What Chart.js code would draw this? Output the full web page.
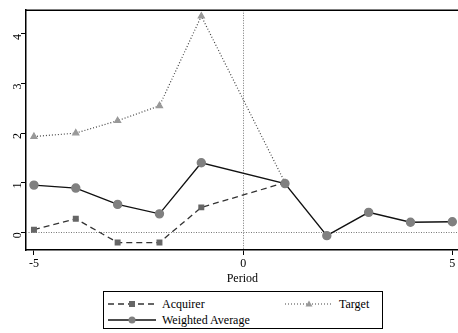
<!DOCTYPE html>
<html>
<head>
<meta charset="utf-8">
<script src="https://cdn.jsdelivr.net/npm/chart.js@4"></script>
<style>
  html, body { margin: 0; padding: 0; background: #fff; overflow: hidden; }
  #wrap { position: relative; width: 458px; height: 333px; overflow: hidden; }
  #box { position: absolute; left: 0; top: 0; width: 464px; height: 290px; }
  #legend {
    position: absolute; left: 103px; top: 291px; width: 280px; height: 38px;
    border: 1px solid #000; box-sizing: border-box;
    font: 12px "Liberation Serif", serif; color: #000;
  }
  .item { position: absolute; display: flex; align-items: center; height: 14px; }
  .item svg { margin-right: 6px; }
</style>
</head>
<body>
<div id="wrap">
  <div id="box"><canvas id="grafico"></canvas></div>
  <div id="legend"></div>
</div>
<script>
// dados
const periodos = [-5, -4, -3, -2, -1, 1, 2, 3, 4, 5]
const acquirer = [0.05, 0.27, -0.21, -0.21, 0.50, 1.00]
const target = [1.93, 2.00, 2.25, 2.55, 4.36, 1.00]
const weighted = [0.95, 0.89, 0.56, 0.37, 1.40, 0.98, -0.07, 0.40, 0.20, 0.21]
const xTicks = [-5, 0, 5]
const yTicks = [0, 1, 2, 3, 4]

const fonte = { family: 'Liberation Serif', size: 12 }

// junta x e y
const pontos = (vals) => vals.map((v, i) => ({ x: periodos[i], y: v }))

// linhas pontilhadas no zero e a moldura de cima
const refLines = {
    id: 'refLines',
    beforeDatasetsDraw(chart) {
        const { ctx, chartArea, scales } = chart
        const y0 = scales.y.getPixelForValue(0)
        const x0 = scales.x.getPixelForValue(0)
        ctx.save()
        ctx.strokeStyle = '#777'
        ctx.lineWidth = 1
        ctx.setLineDash([1, 1.5])
        ctx.beginPath()
        ctx.moveTo(chartArea.left, Math.round(y0) + 0.5)
        ctx.lineTo(chartArea.right, Math.round(y0) + 0.5)
        ctx.moveTo(Math.round(x0) + 0.5, chartArea.top)
        ctx.lineTo(Math.round(x0) + 0.5, chartArea.bottom)
        ctx.stroke()
        ctx.setLineDash([])
        ctx.strokeStyle = '#000'
        ctx.lineWidth = 1.5
        ctx.beginPath()
        ctx.moveTo(chartArea.left, chartArea.top)
        ctx.lineTo(chartArea.right, chartArea.top)
        ctx.stroke()
        ctx.restore()
    }
}

const series = [
    { label: 'Acquirer', data: pontos(acquirer), borderColor: '#333', borderDash: [6, 4], borderWidth: 1.3,
      pointStyle: 'rect', pointRadius: 3.3, pointBackgroundColor: '#666', pointBorderColor: '#666', order: 2 },
    { label: 'Target', data: pontos(target), borderColor: '#444', borderDash: [1, 2], borderWidth: 1.2,
      pointStyle: 'triangle', pointRadius: 3.5, pointBackgroundColor: '#999', pointBorderColor: '#999', order: 3 },
    { label: 'Weighted Average', data: pontos(weighted), borderColor: '#111', borderWidth: 1.4,
      pointStyle: 'circle', pointRadius: 4, pointBackgroundColor: '#808080', pointBorderColor: '#808080', order: 1 }
]

new Chart(document.getElementById('grafico'), {
    type: 'line',
    data: { datasets: series },
    options: {
        responsive: true,
        maintainAspectRatio: false,
        animation: false,
        layout: { padding: { top: 7, right: 0, left: 0, bottom: 0 } },
        plugins: { legend: { display: false }, tooltip: { enabled: false } },
        elements: { line: { tension: 0 } },
        scales: {
            x: {
                type: 'linear', min: -5.19, max: 5.15,
                afterBuildTicks: (s) => { s.ticks = xTicks.map(v => ({ value: v })) },
                afterFit: (s) => { s.height = 40 },
                grid: { drawOnChartArea: false, tickLength: 5, tickColor: '#000', tickWidth: 1 },
                border: { color: '#000', width: 1.5 },
                ticks: { color: '#000', font: fonte, padding: 2, maxRotation: 0 },
                title: { display: true, text: 'Period', color: '#000', font: fonte, padding: { top: 0 } }
            },
            y: {
                type: 'linear', min: -0.36, max: 4.48,
                afterBuildTicks: (s) => { s.ticks = yTicks.map(v => ({ value: v })) },
                afterFit: (s) => { s.width = 26 },
                grid: { drawOnChartArea: false, tickLength: 5, tickColor: '#000', tickWidth: 1 },
                border: { color: '#000', width: 1.5 },
                ticks: { color: '#000', font: fonte, padding: 3, minRotation: 90, maxRotation: 90 }
            }
        }
    },
    plugins: [refLines]
})

// legenda em html, duas colunas como no original
const legenda = document.getElementById('legend')
const posicoes = [{ left: 4, top: 5 }, { left: 181, top: 5 }, { left: 4, top: 21 }]
legenda.innerHTML = series.map((s, i) => {
    const p = posicoes[i]
    const dash = s.borderDash ? s.borderDash.join(',') : 'none'
    let marca = ''
    if (s.pointStyle === 'rect') marca = `<rect x="21" y="3" width="6" height="6" fill="${s.pointBackgroundColor}"/>`
    if (s.pointStyle === 'triangle') marca = `<polygon points="24,2.5 27.5,8.5 20.5,8.5" fill="${s.pointBackgroundColor}"/>`
    if (s.pointStyle === 'circle') marca = `<circle cx="24" cy="6" r="3.5" fill="${s.pointBackgroundColor}"/>`
    return `<div class="item" style="left:${p.left}px;top:${p.top}px">
        <svg width="48" height="12"><line x1="0" y1="6" x2="48" y2="6" stroke="${s.borderColor}" stroke-width="${s.borderWidth}" stroke-dasharray="${dash}"/>${marca}</svg>
        <span>${s.label}</span></div>`
}).join('')
</script>
</body>
</html>
